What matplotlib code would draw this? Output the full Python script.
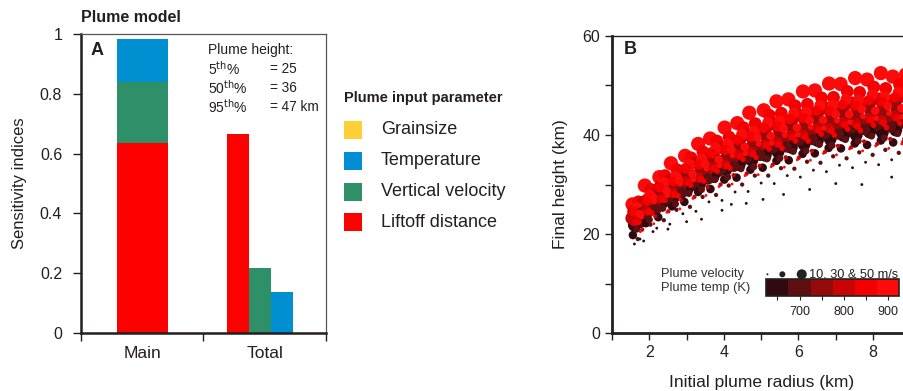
import numpy as np
import matplotlib
matplotlib.use('Agg')
import matplotlib.pyplot as plt
from matplotlib.colors import ListedColormap, BoundaryNorm
from matplotlib.patches import Rectangle
from matplotlib.ticker import FixedLocator

plt.rcParams['font.family'] = ['Liberation Sans', 'DejaVu Sans']
ink = '#231f20'

# --- panel A: sensitivity indices ---
params = ['Grainsize', 'Temperature', 'Vertical velocity', 'Liftoff distance']
param_colors = ['#ffd035', '#008fd0', '#2e9068', '#ff0000']
main_idx = [0.0, 0.144, 0.205, 0.636]
total_idx = [0.0, 0.138, 0.219, 0.666]
group_labels = ['Main', 'Total']
pct_labels = [r'5$^{\rm th}$%', r'50$^{\rm th}$%', r'95$^{\rm th}$%']
pct_heights = [25, 36, 47]

# --- panel B: plume model runs, grouped by vent speed / temperature ---
layer_speed = [50, 50, 50, 45, 45, 45, 45, 40, 40, 40, 35, 35, 30, 30, 25, 25, 20, 20, 15, 15, 10, 10, 10]
layer_temp = [915, 800, 700, 870, 820, 760, 665, 895, 745, 690, 860, 790, 905, 650, 680, 860, 910, 830, 710, 800, 640, 890, 655]
layer_radius = [
    [1.55, 1.88, 2.27, 2.58, 2.96, 3.31, 3.63, 4.02, 4.36, 4.68, 5.07, 5.41, 5.73, 6.12, 6.44, 6.82, 7.13, 7.52, 7.84, 8.21, 8.53, 8.88],
    [1.6, 1.96, 2.3, 2.68, 3.0, 3.38, 3.7, 4.08, 4.4, 4.78, 5.1, 5.48, 5.8, 6.18, 6.5, 6.88, 7.2, 7.58, 7.9, 8.28, 8.6],
    [1.74, 2.09, 2.44, 2.79, 3.14, 3.49, 3.84, 4.19, 4.54, 4.89, 5.24, 5.59, 5.94, 6.29, 6.64, 6.99, 7.34, 7.69, 8.04, 8.39, 8.74],
    [1.71, 2.04, 2.42, 2.74, 3.12, 3.44, 3.81, 4.14, 4.52, 4.84, 5.22, 5.54, 5.91, 6.24, 6.62, 6.94, 7.31, 7.64, 8.02, 8.34, 8.71],
    [1.53, 1.86, 2.21, 2.56, 2.91, 3.26, 3.61, 3.96, 4.31, 4.66, 5.01, 5.36, 5.71, 6.06, 6.41, 6.76, 7.11, 7.46, 7.81, 8.16, 8.51, 8.86],
    [1.63, 1.99, 2.33, 2.69, 3.03, 3.39, 3.73, 4.09, 4.43, 4.79, 5.13, 5.49, 5.83, 6.19, 6.53, 6.89, 7.23, 7.59, 7.93, 8.29, 8.63],
    [1.6, 1.95, 2.31, 2.65, 3.01, 3.35, 3.71, 4.05, 4.41, 4.75, 5.11, 5.45, 5.81, 6.15, 6.51, 6.85, 7.21, 7.55, 7.91, 8.25, 8.61],
    [1.67, 2.01, 2.38, 2.71, 3.08, 3.41, 3.78, 4.11, 4.48, 4.81, 5.18, 5.51, 5.88, 6.21, 6.58, 6.91, 7.28, 7.61, 7.98, 8.31, 8.68],
    [1.8, 2.15, 2.5, 2.85, 3.2, 3.55, 3.9, 4.25, 4.6, 4.95, 5.3, 5.65, 6.0, 6.35, 6.7, 7.05, 7.4, 7.75, 8.1, 8.45, 8.8],
    [1.82, 2.17, 2.52, 2.87, 3.22, 3.57, 3.92, 4.27, 4.62, 4.97, 5.32, 5.67, 6.02, 6.37, 6.72, 7.07, 7.42, 7.77, 8.12, 8.47, 8.82],
    [1.59, 1.94, 2.28, 2.64, 2.98, 3.34, 3.68, 4.04, 4.38, 4.74, 5.08, 5.44, 5.78, 6.14, 6.48, 6.84, 7.18, 7.54, 7.88, 8.24, 8.58, 8.92],
    [1.58, 1.93, 2.29, 2.63, 2.99, 3.33, 3.69, 4.03, 4.39, 4.73, 5.09, 5.43, 5.79, 6.13, 6.49, 6.83, 7.19, 7.53, 7.89, 8.23, 8.59],
    [1.75, 2.1, 2.46, 2.8, 3.16, 3.5, 3.86, 4.2, 4.56, 4.9, 5.26, 5.6, 5.96, 6.3, 6.66, 7.0, 7.36, 7.7, 8.06, 8.4, 8.76],
    [1.56, 1.91, 2.24, 2.61, 2.94, 3.31, 3.64, 4.01, 4.34, 4.71, 5.04, 5.41, 5.74, 6.11, 6.44, 6.81, 7.14, 7.51, 7.84, 8.21, 8.54, 8.9],
    [1.66, 2.0, 2.36, 2.7, 3.06, 3.4, 3.76, 4.1, 4.46, 4.8, 5.16, 5.5, 5.86, 6.2, 6.56, 6.9, 7.26, 7.6, 7.96, 8.3, 8.66],
    [1.64, 1.98, 2.34, 2.68, 3.04, 3.38, 3.74, 4.08, 4.44, 4.78, 5.14, 5.48, 5.84, 6.18, 6.54, 6.88, 7.24, 7.58, 7.94, 8.28, 8.64],
    [1.78, 2.13, 2.48, 2.83, 3.18, 3.53, 3.88, 4.23, 4.58, 4.93, 5.28, 5.63, 5.98, 6.33, 6.68, 7.03, 7.38, 7.73, 8.08, 8.43, 8.78],
    [1.72, 2.06, 2.41, 2.77, 3.11, 3.46, 3.82, 4.16, 4.51, 4.86, 5.21, 5.56, 5.92, 6.26, 6.61, 6.96, 7.32, 7.66, 8.01, 8.36, 8.72],
    [1.69, 2.03, 2.39, 2.73, 3.09, 3.43, 3.79, 4.13, 4.49, 4.83, 5.19, 5.53, 5.89, 6.23, 6.59, 6.93, 7.29, 7.63, 7.99, 8.33, 8.69],
    [1.81, 2.16, 2.51, 2.86, 3.21, 3.56, 3.91, 4.26, 4.61, 4.96, 5.31, 5.66, 6.01, 6.36, 6.71, 7.06, 7.41, 7.76, 8.11, 8.46, 8.81],
    [1.85, 2.2, 2.55, 2.9, 3.25, 3.6, 3.95, 4.3, 4.65, 5.0, 5.35, 5.7, 6.05, 6.4, 6.75, 7.1, 7.45, 7.8, 8.15, 8.5, 8.85],
    [1.76, 2.12, 2.47, 2.82, 3.17, 3.52, 3.87, 4.22, 4.57, 4.92, 5.27, 5.62, 5.97, 6.32, 6.67, 7.02, 7.37, 7.72, 8.07, 8.42, 8.77],
    [1.6, 1.75, 2.1, 2.5, 3.0, 3.4, 3.95, 4.2, 4.6, 5.05, 5.6, 6.3, 7.0, 7.7, 8.5],
]
layer_height = [
    [26.0, 29.8, 31.5, 34.3, 35.8, 38.2, 39.3, 41.5, 42.4, 44.5, 45.0, 46.8, 47.2, 48.8, 49.0, 50.4, 50.3, 51.5, 51.2, 52.5, 51.8, 52.2],
    [24.5, 26.8, 29.4, 30.6, 33.0, 34.0, 36.2, 37.0, 38.8, 39.4, 41.2, 41.4, 42.9, 43.1, 44.5, 44.5, 45.7, 45.4, 46.6, 46.2, 47.1],
    [22.6, 25.7, 26.9, 29.2, 30.1, 32.2, 32.9, 34.8, 35.4, 37.1, 37.5, 38.9, 39.1, 40.5, 40.5, 41.7, 41.6, 42.6, 42.3, 43.2, 42.8],
    [26.5, 29.0, 31.8, 33.0, 35.4, 36.6, 38.8, 39.6, 41.5, 42.3, 44.0, 44.4, 45.9, 46.2, 47.5, 47.6, 48.8, 48.6, 49.7, 49.4, 50.2],
    [23.2, 26.5, 28.3, 30.9, 32.0, 34.4, 35.3, 37.4, 38.0, 40.0, 40.5, 42.3, 42.5, 44.0, 44.1, 45.4, 45.3, 46.5, 46.2, 47.3, 46.9, 47.7],
    [23.6, 25.8, 28.4, 29.5, 31.9, 32.7, 34.9, 35.6, 37.5, 38.0, 39.7, 39.9, 41.5, 41.6, 43.0, 43.0, 44.2, 43.9, 45.0, 44.6, 45.5],
    [21.8, 24.5, 26.0, 27.5, 29.0, 30.2, 31.6, 33.0, 34.0, 34.9, 35.9, 36.6, 37.5, 38.1, 38.9, 39.2, 39.9, 40.0, 40.6, 40.5, 41.0],
    [25.3, 27.8, 30.4, 31.6, 34.0, 35.1, 37.3, 38.2, 40.1, 40.7, 42.5, 42.8, 44.4, 44.6, 46.0, 46.0, 47.2, 47.0, 48.1, 47.7, 48.6],
    [24.3, 26.0, 28.5, 29.6, 31.9, 32.6, 34.8, 35.3, 37.2, 37.6, 39.3, 39.4, 41.0, 40.9, 42.3, 42.2, 43.4, 43.1, 44.2, 43.7, 44.5],
    [23.3, 24.9, 27.3, 28.3, 30.5, 31.1, 33.1, 33.7, 35.5, 35.9, 37.5, 37.6, 39.0, 39.1, 40.3, 40.2, 41.4, 41.1, 42.1, 41.6, 42.4],
    [24.4, 26.7, 29.4, 30.6, 33.2, 34.0, 36.2, 37.0, 39.0, 39.6, 41.4, 41.7, 43.2, 43.4, 44.9, 44.8, 46.1, 45.9, 47.0, 46.7, 47.6, 47.0],
    [22.6, 24.7, 27.2, 28.3, 30.7, 31.4, 33.5, 34.1, 36.1, 36.6, 38.2, 38.5, 40.0, 40.1, 41.5, 41.4, 42.6, 42.4, 43.4, 43.0, 43.9],
    [24.0, 27.4, 28.7, 31.0, 32.1, 34.2, 35.0, 37.0, 37.6, 39.5, 39.8, 41.3, 41.5, 42.9, 43.0, 44.2, 44.2, 45.2, 44.9, 45.8, 45.4],
    [19.8, 22.2, 23.4, 25.6, 26.5, 28.5, 29.1, 31.0, 31.4, 33.0, 33.4, 34.8, 34.9, 36.2, 36.3, 37.4, 37.3, 38.3, 38.0, 38.9, 38.5, 39.2],
    [21.0, 22.9, 25.2, 26.1, 28.2, 29.0, 31.0, 31.5, 33.2, 33.6, 35.2, 35.3, 36.7, 36.8, 38.1, 37.9, 39.1, 38.8, 39.8, 39.4, 40.3],
    [22.4, 24.5, 27.1, 28.0, 30.4, 31.1, 33.3, 33.8, 35.7, 36.2, 37.9, 38.1, 39.6, 39.6, 41.0, 40.9, 42.1, 41.8, 43.0, 42.5, 43.4],
    [23.5, 26.6, 27.8, 30.2, 31.0, 33.2, 33.9, 35.9, 36.3, 38.2, 38.4, 40.0, 40.1, 41.6, 41.4, 42.9, 42.6, 43.8, 43.4, 44.4, 43.7],
    [22.4, 24.3, 26.8, 27.7, 29.9, 30.7, 32.7, 33.3, 35.1, 35.5, 37.2, 37.3, 38.8, 38.8, 40.2, 40.0, 41.2, 40.9, 42.0, 41.5, 42.4],
    [19.0, 21.9, 22.8, 24.9, 25.5, 27.5, 27.9, 29.8, 30.0, 31.8, 31.8, 33.3, 33.2, 34.6, 34.4, 35.7, 35.3, 36.5, 36.0, 37.0, 36.4],
    [20.9, 23.6, 24.6, 26.8, 27.5, 29.5, 30.0, 31.9, 32.2, 33.8, 34.0, 35.5, 35.4, 36.8, 36.6, 37.8, 37.5, 38.7, 38.2, 39.2, 38.6],
    [18.6, 21.2, 22.0, 24.1, 24.6, 26.5, 26.8, 28.5, 28.6, 30.3, 30.2, 31.8, 31.5, 32.9, 32.6, 33.9, 33.4, 34.5, 34.0, 35.0, 34.3],
    [20.5, 22.1, 24.4, 25.1, 27.2, 27.8, 29.6, 30.1, 31.8, 32.0, 33.6, 33.5, 35.0, 34.9, 36.3, 36.0, 37.2, 36.8, 37.8, 37.3, 38.2],
    [18.0, 19.0, 20.5, 21.0, 22.5, 23.0, 24.8, 26.0, 26.2, 27.0, 28.0, 29.0, 30.2, 30.0, 31.5],
]
temp_colors = ['#300a0e', '#5e0f12', '#950a0b', '#c80406', '#f40000', '#ff0a0a']
temp_bounds = [625, 675, 725, 775, 825, 875, 925]
key_speed = [10, 30, 50]

fig = plt.figure(figsize=(9.04, 3.91), dpi=100)

# ---------------- A ----------------
axA = fig.add_axes([0.0896, 0.148, 0.271, 0.765])
bottom = 0.0
for k in [3, 2, 1, 0]:
    axA.bar(0.502, main_idx[k], width=0.416, bottom=bottom,
            color=param_colors[k], linewidth=0)
    bottom += main_idx[k]
total_x = [1.82, 1.64, 1.46, 1.28]
for k in range(4):
    axA.bar(total_x[k], total_idx[k], width=0.18, color=param_colors[k], linewidth=0)

axA.set_xlim(0, 2)
axA.set_ylim(0, 1)
axA.set_yticks([0, 0.2, 0.4, 0.6, 0.8, 1])
axA.set_yticklabels(['0', '0.2', '0.4', '0.6', '0.8', '1'])
axA.set_xticks([0, 1, 2])
axA.set_xticklabels([])
axA.set_xticks([0.5, 1.5], minor=True)
axA.set_xticklabels(group_labels, minor=True)
axA.tick_params(axis='both', which='major', direction='out', length=5.5, width=1,
                labelsize=11.5, labelcolor=ink, color=ink)
axA.tick_params(axis='y', which='major', pad=8)
axA.tick_params(axis='x', which='minor', length=0, pad=9, labelsize=12.5, labelcolor=ink)
for s in ['left', 'bottom']:
    axA.spines[s].set_linewidth(1.8)
    axA.spines[s].set_color(ink)
for s in ['top', 'right']:
    axA.spines[s].set_linewidth(0.9)
    axA.spines[s].set_color('#555555')
axA.set_ylabel('Sensitivity indices', fontsize=12, color=ink, labelpad=9)

fig.text(81 / 904, 1 - 18 / 391, 'Plume model', fontsize=11.5, weight='bold',
         color=ink, va='center')
axA.text(0.065, 0.946, 'A', transform=axA.transAxes, fontsize=13, weight='bold',
         color=ink, ha='center', va='center')
axA.text(0.518, 0.946, 'Plume height:', transform=axA.transAxes, fontsize=10,
         color=ink, va='center')
for i, (lab, val) in enumerate(zip(pct_labels, pct_heights)):
    y = 0.883 - i * 0.0635
    axA.text(0.518, y, lab, transform=axA.transAxes, fontsize=10, color=ink, va='center')
    tail = ' km' if i == len(pct_heights) - 1 else ''
    axA.text(0.772, y, f'= {val}{tail}', transform=axA.transAxes, fontsize=9.8,
             color=ink, va='center')

# legend for the input parameters
fig.text(344 / 904, 1 - 98 / 391, 'Plume input parameter', fontsize=10.5,
         weight='bold', color=ink, va='center')
for i, (name, col) in enumerate(zip(params, param_colors)):
    yc = 130 + i * 30.8
    fig.patches.append(Rectangle((344 / 904, 1 - (yc + 9) / 391), 18 / 904, 18 / 391,
                                 transform=fig.transFigure, color=col, lw=0))
    fig.text(381 / 904, 1 - yc / 391, name, fontsize=13, color=ink, va='center')

# ---------------- B ----------------
axB = fig.add_axes([0.677, 0.148, 0.330, 0.760])
cmap = ListedColormap(temp_colors)
norm = BoundaryNorm(temp_bounds, cmap.N)

radius = np.concatenate([np.array(r) for r in layer_radius])
height = np.concatenate([np.array(h) for h in layer_height])
speed = np.concatenate([np.full(len(r), v) for r, v in zip(layer_radius, layer_speed)])
temp = np.concatenate([np.full(len(r), t) for r, t in zip(layer_radius, layer_temp)])

sc = axB.scatter(radius, height, s=105 * (speed / 50) ** 2, c=temp, cmap=cmap,
                 norm=norm, linewidths=0)

axB.set_xlim(1, 9)
axB.set_ylim(0, 60)
axB.set_xticks([2, 4, 6, 8])
axB.set_xticks([1, 3, 5, 7, 9], minor=True)
axB.set_yticks([0, 20, 40, 60])
axB.set_yticks([10, 30, 50], minor=True)
axB.tick_params(axis='both', which='both', direction='out', length=5, width=1,
                labelsize=11.5, labelcolor=ink, color=ink)
for s in ['left', 'bottom']:
    axB.spines[s].set_linewidth(2)
    axB.spines[s].set_color(ink)
axB.spines['top'].set_linewidth(1)
axB.spines['top'].set_color(ink)
axB.spines['right'].set_visible(False)
axB.set_xlabel('Initial plume radius (km)', fontsize=12.5, color=ink, labelpad=11)
axB.set_ylabel('Final height (km)', fontsize=12.5, color=ink, labelpad=10)
axB.text(0.06, 0.955, 'B', transform=axB.transAxes, fontsize=13, weight='bold',
         color=ink, ha='center', va='center')

# velocity size key
axB.scatter([0.521, 0.571, 0.636], [0.198] * 3, s=52 * (np.array(key_speed) / 50) ** 2,
            color='#222222', transform=axB.transAxes, clip_on=False, linewidths=0)
axB.text(0.662, 0.198, '10, 30 & 50 m/s', transform=axB.transAxes, fontsize=9.2,
         color=ink, va='center')
axB.text(0.164, 0.198, 'Plume velocity', transform=axB.transAxes, fontsize=9.3,
         color='#333333', va='center')
axB.text(0.164, 0.151, 'Plume temp (K)', transform=axB.transAxes, fontsize=9.3,
         color='#333333', va='center')

cax = axB.inset_axes([0.517, 0.124, 0.446, 0.057])
cb = fig.colorbar(sc, cax=cax, orientation='horizontal', ticks=[700, 800, 900])
cb.ax.xaxis.set_minor_locator(FixedLocator([650, 750, 850]))
cb.ax.tick_params(which='both', length=3, width=0.8, labelsize=9, labelcolor=ink,
                  color=ink, pad=4)
cb.outline.set_linewidth(1.2)
cb.outline.set_edgecolor('#222222')

fig.savefig('out.png', dpi=100)
